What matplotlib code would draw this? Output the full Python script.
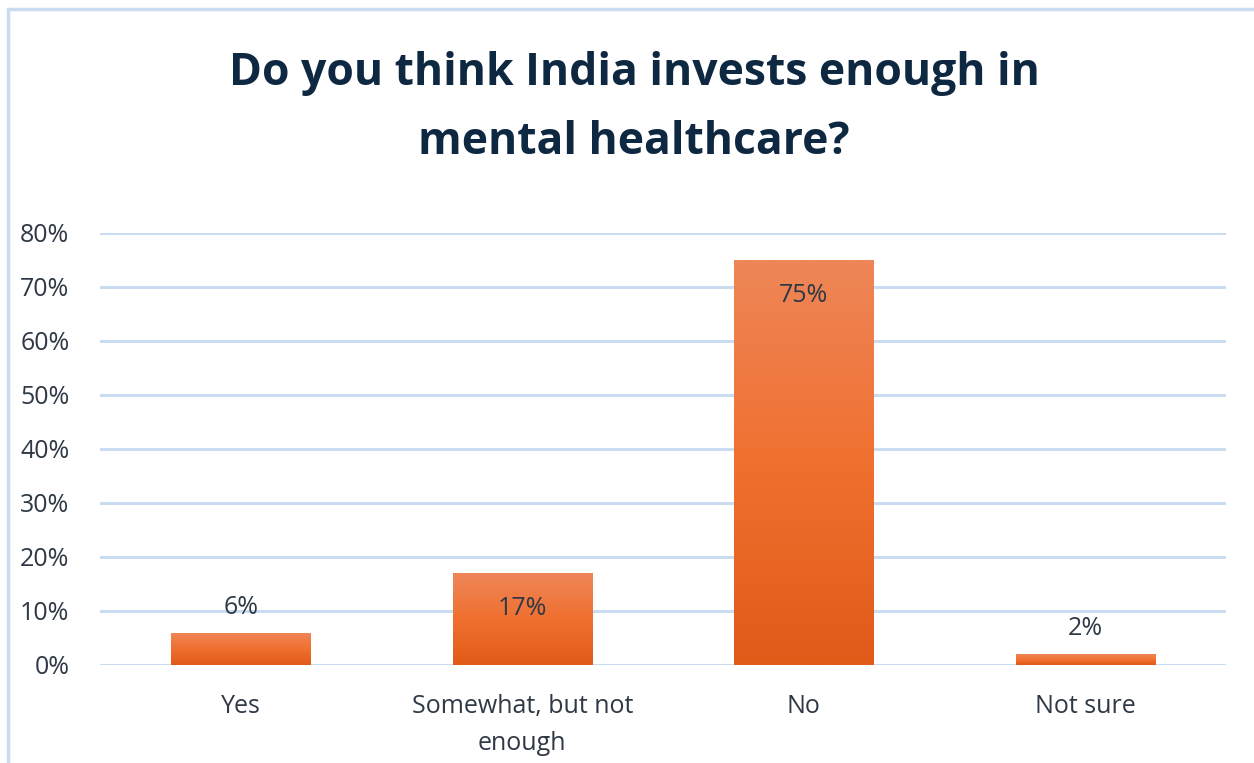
import matplotlib.pyplot as plt
import numpy as np
from matplotlib.patches import Rectangle
from matplotlib.colors import LinearSegmentedColormap

# Respuestas de la encuesta (en %)
categorias = ["Yes", "Somewhat, but not\nenough", "No", "Not sure"]
valores = [6, 17, 75, 2]
etiquetas = ["6%", "17%", "75%", "2%"]
ticks_y = [0, 10, 20, 30, 40, 50, 60, 70, 80]

plt.rcParams['font.family'] = ['Open Sans', 'DejaVu Sans']

azul_texto = "#0E2841"
gris_texto = "#2E3945"
azul_grid = "#C9DCF2"

fig = plt.figure(figsize=(12.54, 7.63), dpi=100)

# Marco del gráfico (se sale por la derecha y por abajo)
fig.patches.append(Rectangle((8 / 1254, -0.05), 1.2, (763 - 9) / 763 + 0.05,
                             transform=fig.transFigure, fill=False,
                             edgecolor=azul_grid, linewidth=2.5))

ax = fig.add_axes([100 / 1254, 98 / 763, 1126 / 1254, 432 / 763])
x = np.arange(len(categorias))

barras = ax.bar(x, valores, width=0.495, color="#F07030", zorder=2)

# Degradado vertical dentro de cada barra
degradado = np.linspace(0, 1, 256).reshape(-1, 1)
cmap = LinearSegmentedColormap.from_list("naranja", ["#E05A18", "#F07030", "#EE8658"])
for b in barras:
    x0, y0 = b.get_x(), b.get_y()
    w, h = b.get_width(), b.get_height()
    im = ax.imshow(degradado, cmap=cmap, aspect='auto', origin='lower',
                   extent=[x0, x0 + w, y0, y0 + h], zorder=2.5)
    im.set_clip_path(b)

for xi, v, txt in zip(x, valores, etiquetas):
    if v > 10:
        ax.text(xi, v - 6.6, txt, ha='center', va='center', fontsize=18, color=gris_texto, zorder=3)
    else:
        ax.text(xi, v + 4.7, txt, ha='center', va='center', fontsize=18, color=gris_texto, zorder=3)

ax.set_xlim(-0.5, 3.5)
ax.set_ylim(0, 80)
ax.set_yticks(ticks_y)
ax.set_yticklabels([f"{t}%" for t in ticks_y])
ax.set_xticks(x)
ax.set_xticklabels(categorias, linespacing=1.6)
ax.tick_params(axis='y', length=0, pad=22, labelsize=18, labelcolor=gris_texto)
ax.tick_params(axis='x', length=0, pad=21, labelsize=18, labelcolor=gris_texto)

ax.grid(axis='y', color=azul_grid, linewidth=2.2, zorder=0)
ax.set_axisbelow(True)
for s in ax.spines.values():
    s.set_visible(False)

fig.text(634 / 1254, 1 - 108 / 763, "Do you think India invests enough in\nmental healthcare?",
         ha='center', va='center', fontsize=32, fontweight='bold', color=azul_texto,
         linespacing=1.72)

fig.savefig("out.png", dpi=100)
